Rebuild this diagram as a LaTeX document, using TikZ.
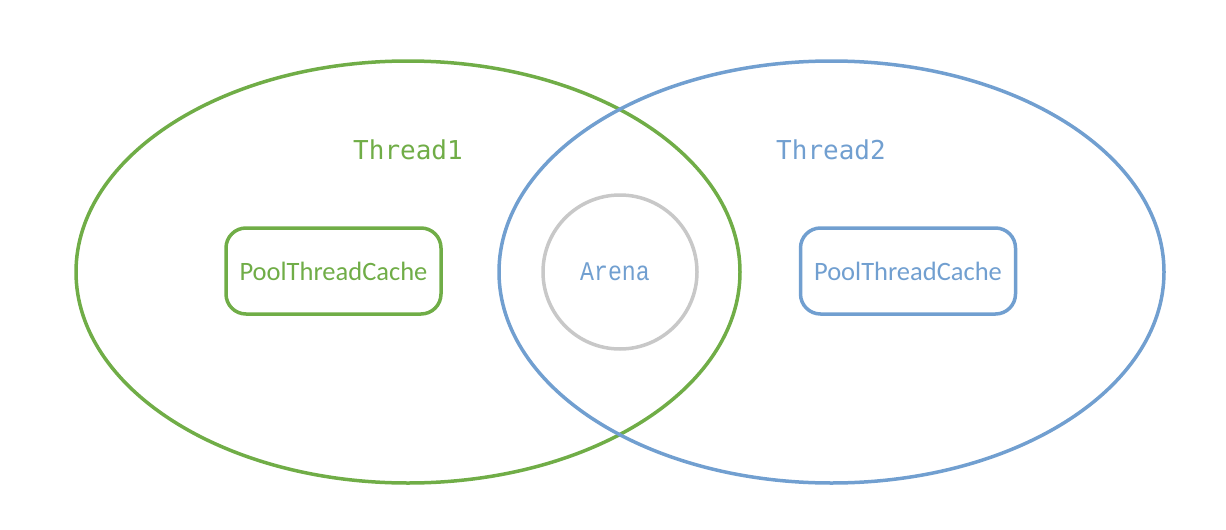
\documentclass[tikz,border=0pt]{standalone}
\usepackage{fontspec}
\setmainfont{Carlito}
\newfontfamily\monofont{Liberation Mono}
\newfontfamily\threadfont{DejaVu Sans Mono}
\definecolor{tgreen}{HTML}{70AD47}
\definecolor{tblue}{HTML}{719FD0}
\definecolor{tgray}{HTML}{C8C8C8}
\begin{document}
\begin{tikzpicture}[x=1pt,y=-1pt,
  ring/.style={line width=3.5pt},
  cachebox/.style={line width=3.5pt, rounded corners=20pt, minimum width=215pt, minimum height=86pt, inner sep=0pt, font=\fontsize{26.5}{30}\selectfont},
  threadlabel/.style={font=\threadfont\fontsize{26}{30}\selectfont},
]
\useasboundingbox (0,0) rectangle (1226,530);
\draw[ring, tgreen] (408,272) ellipse [x radius=332, y radius=211];
\draw[ring, tblue] (831.5,272) ellipse [x radius=332.5, y radius=211];
\node[draw=tgray, line width=3.5pt, circle, minimum size=154pt, inner sep=0pt] (arena) at (620,272) {};
\node[text=tblue, font=\monofont\fontsize{27}{30}\selectfont] (arenalabel) at (615,272) {\scalebox{0.86}[1]{Arena}};
\node[threadlabel, text=tgreen] (t1) at (408,150) {Thread1};
\node[threadlabel, text=tblue] (t2) at (831,150) {Thread2};
\node[cachebox, draw=tgreen, text=tgreen] (c1) at (333.5,271) {PoolThreadCache};
\node[cachebox, draw=tblue, text=tblue] (c2) at (908,271) {PoolThreadCache};
\end{tikzpicture}
\end{document}
